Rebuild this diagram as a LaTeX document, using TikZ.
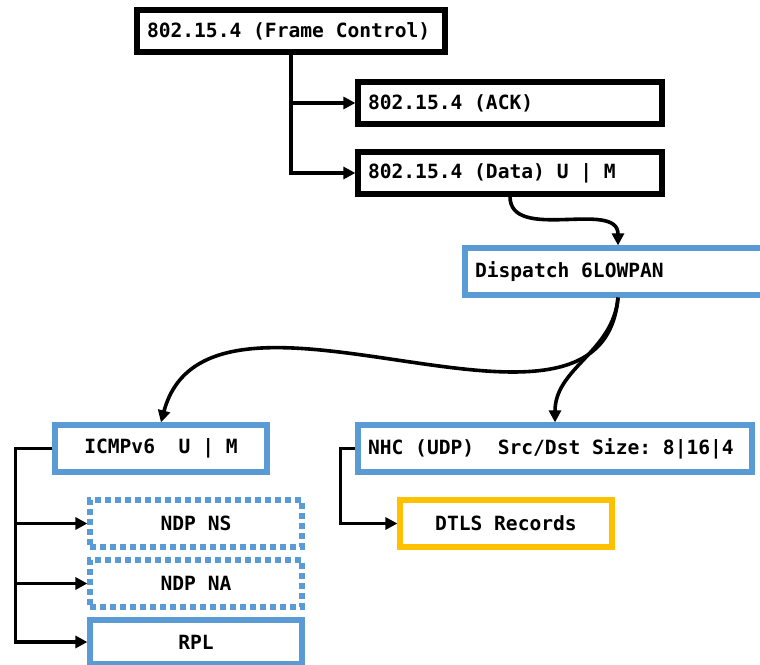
\documentclass[tikz,border=0pt]{standalone}
\usepackage{fontspec}
\setmonofont{DejaVu Sans Mono}
\usetikzlibrary{arrows.meta}
\definecolor{boxblue}{RGB}{91,155,213}
\definecolor{boxgold}{RGB}{255,192,0}
\begin{document}
\begin{tikzpicture}[x=0.5pt,y=0.5pt,
	every node/.style={font=\ttfamily\bfseries\fontsize{9.8}{11}\selectfont},
	framebox/.style={draw=black,line width=2.6pt,minimum height=21pt,inner xsep=5pt,align=flush left},
	bluebox/.style={draw=boxblue,line width=2.6pt,minimum height=23.5pt,inner xsep=5pt},
	dotbox/.style={bluebox,dash pattern=on 3pt off 2pt},
	goldbox/.style={draw=boxgold,line width=2.6pt,minimum height=23.5pt},
	link/.style={line width=1.8pt,-{Triangle[length=6pt,width=6pt]}}]
	\useasboundingbox (0,0) rectangle (760,664);
	% 802.15.4 layer
	\node[framebox,text width=144pt] (fctl) at (291,633) {802.15.4 (Frame Control)};
	\node[framebox,text width=142pt] (ack) at (510,561) {802.15.4 (ACK)};
	\node[framebox,text width=142pt] (data) at (510,491) {802.15.4 (Data) U | M};
	\draw[link] (fctl.south) |- (ack.west);
	\draw[link] (fctl.south) |- (data.west);
	% 6LoWPAN
	\node[bluebox,text width=143pt,align=flush left] (disp) at (618,392.5) {Dispatch 6LOWPAN};
	\draw[link] (data.south) to[out=-90,in=90] (disp.north);
	% upper layers
	\node[bluebox,minimum width=106pt] (icmp) at (161,215.5) {ICMPv6\ \ U | M};
	\node[bluebox,text width=187pt,align=flush left] (nhc) at (555,215.5) {NHC (UDP)\ \ Src/Dst Size: 8|16|4};
	\draw[link] (disp.south) to[out=-95,in=75] (icmp.north);
	\draw[link] (disp.south) to[out=-95,in=90] (nhc.north);
	% ICMPv6 messages
	\node[dotbox,minimum width=106pt] (ns) at (196,140.5) {NDP NS};
	\node[dotbox,minimum width=106pt] (na) at (196,80.5) {NDP NA};
	\node[bluebox,minimum width=106pt,minimum height=22pt] (rpl) at (196,22) {RPL};
	\draw[link] (icmp.west) -- ++(-37,0) |- (ns.west);
	\draw[link] (icmp.west) -- ++(-37,0) |- (na.west);
	\draw[link] (icmp.west) -- ++(-37,0) |- (rpl.west);
	% UDP payload
	\node[goldbox,minimum width=106pt] (dtls) at (506,140.5) {DTLS Records};
	\draw[link] (nhc.west) -- ++(-15,0) |- (dtls.west);
\end{tikzpicture}
\end{document}
